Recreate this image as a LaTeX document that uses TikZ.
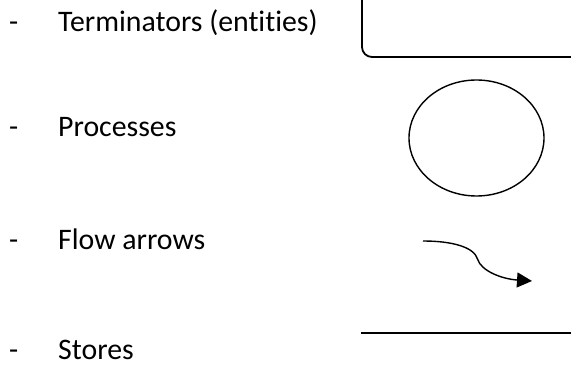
\documentclass[tikz,border=0pt]{standalone}
\usepackage{fontspec}
\setmainfont[Ligatures=NoCommon]{Carlito}
\usetikzlibrary{arrows.meta,shapes.geometric}
\begin{document}
\begin{tikzpicture}[x=1pt,y=1pt,
  label/.style={anchor=base west,inner sep=0pt,font=\fontsize{29.8}{36}\selectfont},
  symline/.style={line width=1.8pt},
  thinsym/.style={line width=1.4pt}]
\useasboundingbox (0,0) rectangle (571,375);
\clip (0,0) rectangle (571,375);

% bullet list
\node[label] (d1) at (9,343) {-};
\node[label] (t1) at (58,343) {Terminators (entities)};
\node[label] (d2) at (9,238) {-};
\node[label] (t2) at (58,238) {Processes};
\node[label] (d3) at (9,125) {-};
\node[label] (t3) at (58,125) {Flow arrows};
\node[label] (d4) at (9,15) {-};
\node[label] (t4) at (58,15) {Stores};

% terminator: box with a rounded lower-left corner
\draw[symline] (362,390) -- (362,328) arc[start angle=180,end angle=270,radius=10] -- (572.2,318) -- (572.2,390);

% process: ellipse
\node[draw,thinsym,ellipse,minimum width=135pt,minimum height=116pt,inner sep=0pt] (proc) at (476.5,237) {};

% flow arrow
\coordinate (fa) at (423,134);
\coordinate (fk) at (477.5,116);
\coordinate (fb) at (532,94);
\draw[thinsym,-{Triangle[length=15pt,width=15pt]}]
  (fa) .. controls (452,134) and (474,128) .. (fk)
       .. controls (481,104) and (502,96) .. (fb);

% store: open line
\coordinate (s1) at (361,42);
\coordinate (s2) at (571,42);
\draw[symline] (s1) -- (s2);
\end{tikzpicture}
\end{document}
